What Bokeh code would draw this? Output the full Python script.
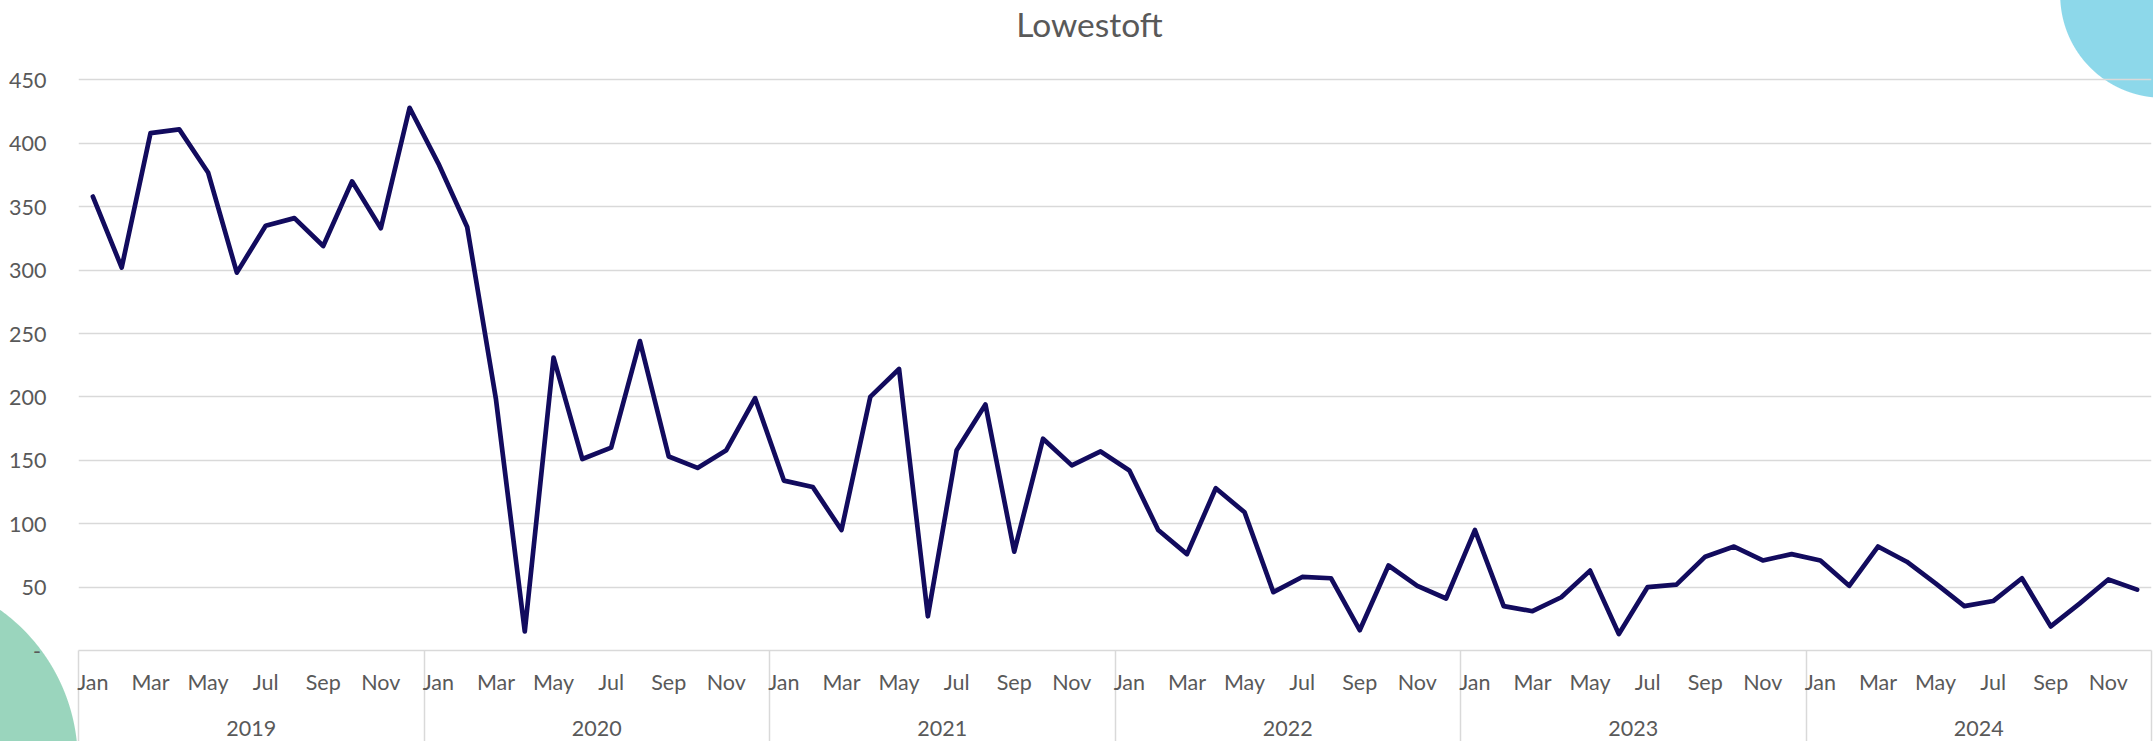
from bokeh.plotting import figure
from bokeh.models import Range1d, FixedTicker, LinearAxis
from bokeh.core.properties import value
from bokeh.embed import file_html
from bokeh.resources import INLINE

# ---------------- data ----------------
years = ["2019", "2020", "2021", "2022", "2023", "2024"]
months = ["Jan", "Feb", "Mar", "Apr", "May", "Jun", "Jul", "Aug", "Sep", "Oct", "Nov", "Dec"]
values_2019 = [358, 302, 408, 411, 377, 298, 335, 341, 319, 370, 333, 428]
values_2020 = [384, 334, 198, 15, 231, 151, 160, 244, 153, 144, 158, 199]
values_2021 = [134, 129, 95, 200, 222, 27, 158, 194, 78, 167, 146, 157]
values_2022 = [142, 95, 76, 128, 109, 46, 58, 57, 16, 67, 51, 41]
values_2023 = [95, 35, 31, 42, 63, 13, 50, 52, 74, 82, 71, 76]
values_2024 = [71, 51, 82, 70, 53, 35, 39, 57, 19, 37, 56, 48]
y_ticks = [0, 50, 100, 150, 200, 250, 300, 350, 400, 450]
title_text = "Lowestoft"

values = values_2019 + values_2020 + values_2021 + values_2022 + values_2023 + values_2024
x = list(range(len(values)))

# ---------------- styles / layout ----------------
FONT = "Lato"
TXT = "#595959"
GRID = "#D9D9D9"
LINE = "#120B5E"

W, H = 2153, 741
ML, MR, MT, MB = 78, 2, 0, 91
FW = W - ML - MR
FH = H - MT - MB
Y_TOP = FH / ((FH - 79.4) / 450.0)   # so that 450 sits ~79px from the top

p = figure(width=W, height=H, output_backend="svg", toolbar_location=None,
           x_range=Range1d(-0.5, len(values) - 0.5), y_range=Range1d(0, Y_TOP),
           min_border_left=ML, min_border_right=MR, min_border_top=MT, min_border_bottom=MB)
p.outline_line_color = None
p.background_fill_color = None
p.border_fill_color = None

# decorative circles painted behind the (transparent) canvas
p.styles = {
    "background-color": "white",
    "background-image": (
        "radial-gradient(circle 103px at 2163px -5px, #8DD8EA 0px, #8DD8EA 102.3px, rgba(141,216,234,0) 103.3px),"
        "radial-gradient(circle 186px at -108px 761px, #9AD5BD 0px, #9AD5BD 185.3px, rgba(154,213,189,0) 186.3px)"
    ),
    "background-repeat": "no-repeat",
}

# helper: page pixel -> data coordinates (for the title position)
def px_to_data(px, py):
    return (-0.5 + (px - ML) / FW * len(values), (MT + FH - py) / FH * Y_TOP)

tx, ty = px_to_data(1089, 23)
p.text(x=[tx], y=[ty], text=[title_text], text_font=value(FONT), text_font_size="33.5px",
       text_color=TXT, text_align="center", text_baseline="alphabetic")

# y axis
p.yaxis.ticker = FixedTicker(ticks=y_ticks)
p.yaxis.major_label_overrides = {0: "-\u00a0"}
p.yaxis.axis_line_color = None
p.yaxis.major_tick_line_color = None
p.yaxis.minor_tick_line_color = None
p.yaxis.major_label_text_font = FONT
p.yaxis.major_label_text_font_size = "21.5px"
p.yaxis.major_label_text_color = TXT
p.yaxis.major_label_standoff = 26
p.ygrid.ticker = FixedTicker(ticks=y_ticks)
p.ygrid.grid_line_color = GRID
p.ygrid.grid_line_width = 1.5
p.xgrid.grid_line_color = None

# month axis (year separators drawn as long minor ticks)
month_ticks = list(range(0, len(values), 2))
year_bounds = [12 * k - 0.5 for k in range(len(years) + 1)]
p.xaxis.ticker = FixedTicker(ticks=month_ticks, minor_ticks=year_bounds)
p.xaxis.major_label_overrides = {i: months[i % 12] for i in month_ticks}
p.xaxis.axis_line_color = GRID
p.xaxis.axis_line_width = 1.5
p.xaxis.major_tick_line_color = None
p.xaxis.major_tick_out = 0
p.xaxis.major_tick_in = 0
p.xaxis.minor_tick_line_color = GRID
p.xaxis.minor_tick_line_width = 1.5
p.xaxis.minor_tick_out = 91
p.xaxis.minor_tick_in = 0
p.xaxis.major_label_text_font = FONT
p.xaxis.major_label_text_font_size = "21.5px"
p.xaxis.major_label_text_color = TXT
p.xaxis.major_label_standoff = -73

# year axis
year_centers = [12 * k + 5.5 for k in range(len(years))]
yax = LinearAxis(ticker=FixedTicker(ticks=year_centers),
                 major_label_overrides={c: y for c, y in zip(year_centers, years)})
yax.axis_line_color = None
yax.major_tick_line_color = None
yax.minor_tick_line_color = None
yax.major_tick_out = 0
yax.major_tick_in = 0
yax.minor_tick_out = 0
yax.major_label_text_font = FONT
yax.major_label_text_font_size = "21.5px"
yax.major_label_text_color = TXT
yax.major_label_standoff = 23
p.add_layout(yax, "below")

# data line
p.line(x, values, line_color=LINE, line_width=4.7, line_join="round", line_cap="round")

open("out.html", "w").write(file_html(p, INLINE))
